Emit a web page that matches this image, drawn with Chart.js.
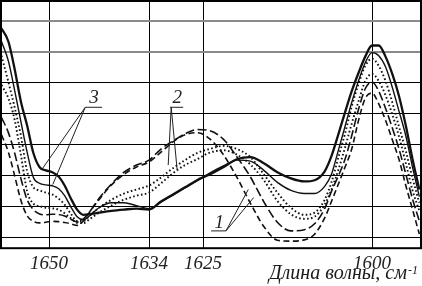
<!DOCTYPE html>
<html>
<head>
<meta charset="utf-8">
<script src="https://cdn.jsdelivr.net/npm/chart.js@4.4.1/dist/chart.umd.min.js"></script>
<style>
  html, body { margin: 0; padding: 0; background: #fff; }
  #wrap { width: 422px; height: 286px; }
</style>
</head>
<body>
<div id="wrap"><canvas id="chart"></canvas></div>
<script>
// wavenumber, cm-1 (shared by all curves)
const wavenumbers = [1657.6, 1656.5, 1655.5, 1654.5, 1653.5, 1652.5, 1651.5, 1650.5, 1649.5, 1648.5,
  1647.5, 1646.5, 1645.5, 1644.5, 1643.5, 1642, 1640, 1638, 1636, 1634,
  1632, 1630, 1628, 1626, 1624, 1622, 1620, 1618, 1616, 1614,
  1612, 1610, 1608.5, 1607, 1606, 1605, 1604, 1603, 1602, 1601,
  1600, 1599, 1598, 1597, 1596, 1595, 1594, 1593]

// group 3 (solid)
const sample3a = [0.775, 0.733, 0.644, 0.539, 0.461, 0.372, 0.326, 0.316, 0.310, 0.297,
  0.267, 0.225, 0.189, 0.172, 0.174, 0.179, 0.185, 0.189, 0.192, 0.189,
  0.215, 0.238, 0.261, 0.284, 0.303, 0.326, 0.352, 0.359, 0.339, 0.310,
  0.290, 0.280, 0.284, 0.313, 0.362, 0.431, 0.503, 0.572, 0.631, 0.684,
  0.720, 0.720, 0.684, 0.628, 0.556, 0.461, 0.352, 0.254]
const sample3b = [0.733, 0.670, 0.575, 0.474, 0.375, 0.293, 0.274, 0.269, 0.266, 0.257,
  0.234, 0.198, 0.166, 0.156, 0.169, 0.195, 0.211, 0.211, 0.202, 0.192,
  0.213, 0.236, 0.259, 0.282, 0.307, 0.330, 0.349, 0.346, 0.316, 0.277,
  0.251, 0.241, 0.241, 0.264, 0.303, 0.379, 0.457, 0.536, 0.605, 0.664,
  0.697, 0.687, 0.651, 0.585, 0.507, 0.428, 0.326, 0.231]
// group 2 (dotted)
const sample2a = [0.687, 0.602, 0.520, 0.428, 0.313, 0.261, 0.251, 0.244, 0.238, 0.225,
  0.205, 0.175, 0.152, 0.152, 0.169, 0.195, 0.221, 0.241, 0.254, 0.267,
  0.293, 0.323, 0.349, 0.372, 0.385, 0.395, 0.385, 0.359, 0.303, 0.244,
  0.195, 0.172, 0.179, 0.221, 0.277, 0.356, 0.434, 0.523, 0.595, 0.654,
  0.677, 0.654, 0.605, 0.536, 0.457, 0.379, 0.290, 0.211]
const sample2b = [0.592, 0.549, 0.480, 0.366, 0.248, 0.208, 0.200, 0.195, 0.193, 0.189,
  0.177, 0.161, 0.146, 0.145, 0.158, 0.179, 0.202, 0.221, 0.234, 0.244,
  0.274, 0.307, 0.333, 0.352, 0.373, 0.381, 0.367, 0.335, 0.284, 0.217,
  0.174, 0.159, 0.166, 0.205, 0.254, 0.316, 0.389, 0.467, 0.539, 0.605,
  0.628, 0.605, 0.559, 0.497, 0.425, 0.339, 0.251, 0.185]
// group 1 (dashed)
const sample1a = [0.487, 0.438, 0.372, 0.290, 0.221, 0.189, 0.175, 0.172, 0.174, 0.173,
  0.168, 0.158, 0.149, 0.159, 0.182, 0.225, 0.272, 0.310, 0.333, 0.349,
  0.385, 0.411, 0.434, 0.448, 0.444, 0.417, 0.360, 0.295, 0.214, 0.148,
  0.120, 0.124, 0.143, 0.192, 0.248, 0.297, 0.351, 0.428, 0.513, 0.580,
  0.602, 0.572, 0.517, 0.454, 0.385, 0.304, 0.223, 0.152]
const sample1b = [0.431, 0.375, 0.299, 0.219, 0.169, 0.151, 0.146, 0.148, 0.151, 0.150,
  0.147, 0.143, 0.138, 0.152, 0.181, 0.221, 0.269, 0.303, 0.327, 0.343,
  0.375, 0.408, 0.431, 0.438, 0.418, 0.367, 0.294, 0.210, 0.134, 0.090,
  0.087, 0.091, 0.109, 0.162, 0.215, 0.270, 0.326, 0.385, 0.477, 0.549,
  0.566, 0.531, 0.478, 0.415, 0.351, 0.267, 0.189, 0.110]

const xTicks = [1650, 1634, 1625, 1600]
const yGrid = [0.1, 0.2, 0.3, 0.4, 0.5, 0.6, 0.7, 0.8]
const xTitle = 'Длина волны, см'
const xTitleSup = '-1'

// curve group labels: text, anchor [wavenumber, value], bar ends, leader start and ends
const labelText = ['1', '2', '3']
const labelAt = [[1622.6, 0.130], [1629.3, 0.533], [1642.8, 0.533]]
const barFrom = [[1623.8, 0.120], [1630.5, 0.520], [1644.2, 0.520]]
const barTo = [[1621.6, 0.120], [1628.3, 0.520], [1641.5, 0.520]]
const leaderFrom = [[1621.6, 0.120], [1630.3, 0.520], [1644.2, 0.520]]
const leaderEnds = [
  [[1618.3, 0.254], [1617.5, 0.228]],
  [[1630.8, 0.333], [1629.3, 0.316]],
  [[1651.1, 0.320], [1649.4, 0.270]]
]

// the original axis is not evenly spaced, so map it piecewise
const KNOT_WAVE = [1657.68, 1634, 1625, 1600, 1592.75]
const KNOT_FRAC = [0, 148 / 420, 202 / 420, 371 / 420, 1]

function waveToFrac(w) {
  const n = KNOT_WAVE.length
  for (let i = 0; i < n - 1; i++) {
    if (w >= KNOT_WAVE[i + 1] || i === n - 2) {
      const t = (KNOT_WAVE[i] - w) / (KNOT_WAVE[i] - KNOT_WAVE[i + 1])
      return KNOT_FRAC[i] + t * (KNOT_FRAC[i + 1] - KNOT_FRAC[i])
    }
  }
}

function fracToWave(f) {
  const n = KNOT_FRAC.length
  for (let i = 0; i < n - 1; i++) {
    if (f <= KNOT_FRAC[i + 1] || i === n - 2) {
      const t = (f - KNOT_FRAC[i]) / (KNOT_FRAC[i + 1] - KNOT_FRAC[i])
      return KNOT_WAVE[i] + t * (KNOT_WAVE[i + 1] - KNOT_WAVE[i])
    }
  }
}

class WaveScale extends Chart.LinearScale {
  getPixelForValue(value) {
    if (value === null || isNaN(value)) return NaN
    return this.getPixelForDecimal(waveToFrac(value))
  }
  getValueForPixel(pixel) {
    return fracToWave(this.getDecimalForPixel(pixel))
  }
}
WaveScale.id = 'wave'
WaveScale.defaults = Chart.LinearScale.defaults
Chart.register(WaveScale)

const serifItalic = { family: "'Liberation Serif', 'DejaVu Serif', serif", style: 'italic', size: 19 }

function series(values, style) {
  return Object.assign({
    data: wavenumbers.map((w, i) => ({ x: w, y: values[i] })),
    borderColor: '#111',
    pointRadius: 0,
    fill: false,
    cubicInterpolationMode: 'monotone'
  }, style)
}

const paperPlugin = {
  id: 'paper',
  beforeDraw(chart) {
    const ctx = chart.ctx
    ctx.save()
    ctx.fillStyle = '#fff'
    ctx.fillRect(0, 0, chart.width, chart.height)
    ctx.restore()
  },
  afterDatasetsDraw(chart) {
    const { ctx, chartArea, scales } = chart
    const px = p => [scales.x.getPixelForValue(p[0]), scales.y.getPixelForValue(p[1])]
    ctx.save()
    // frame
    ctx.strokeStyle = '#000'
    ctx.lineWidth = 2
    ctx.strokeRect(chartArea.left, chartArea.top, chartArea.right - chartArea.left, chartArea.bottom - chartArea.top)

    // group labels with leaders
    ctx.lineWidth = 1
    ctx.strokeStyle = '#222'
    ctx.fillStyle = '#222'
    ctx.font = 'italic 19px "Liberation Serif"'
    ctx.textAlign = 'center'
    ctx.textBaseline = 'alphabetic'
    labelText.forEach((t, i) => {
      const [tx, ty] = px(labelAt[i])
      ctx.fillText(t, tx, ty)
      const a = px(barFrom[i]), b = px(barTo[i]), o = px(leaderFrom[i])
      ctx.beginPath()
      ctx.moveTo(a[0], a[1])
      ctx.lineTo(b[0], b[1])
      leaderEnds[i].forEach(e => {
        const p = px(e)
        ctx.moveTo(o[0], o[1])
        ctx.lineTo(p[0], p[1])
      })
      ctx.stroke()
    })
    ctx.restore()
  },
  afterDraw(chart) {
    const ctx = chart.ctx
    ctx.save()
    ctx.fillStyle = '#1a1a1a'
    ctx.textBaseline = 'alphabetic'
    ctx.textAlign = 'right'
    ctx.font = 'italic 12px "Liberation Serif"'
    const supW = ctx.measureText(xTitleSup).width
    const right = chart.width - 4
    ctx.fillText(xTitleSup, right, 274)
    ctx.font = 'italic 20px "Liberation Serif"'
    ctx.fillText(xTitle, right - supW - 1, 279)
    ctx.restore()
  }
}

new Chart(document.getElementById('chart'), {
  type: 'line',
  data: {
    datasets: [
      series(sample3a, { borderWidth: 2.3 }),
      series(sample3b, { borderWidth: 1.4 }),
      series(sample2a, { borderWidth: 1.9, borderDash: [1.6, 2.4] }),
      series(sample2b, { borderWidth: 1.9, borderDash: [1.6, 2.4] }),
      series(sample1a, { borderWidth: 1.6, borderDash: [9, 3.5] }),
      series(sample1b, { borderWidth: 1.6, borderDash: [6, 3.5] })
    ]
  },
  options: {
    responsive: true,
    maintainAspectRatio: false,
    animation: false,
    devicePixelRatio: 1,
    events: [],
    layout: { padding: { left: 1, right: 1, top: 1, bottom: 7 } },
    plugins: {
      legend: { display: false },
      tooltip: { enabled: false }
    },
    scales: {
      x: {
        type: 'wave',
        min: 1592.75,
        max: 1657.68,
        bounds: 'data',
        afterBuildTicks: scale => { scale.ticks = xTicks.map(v => ({ value: v })) },
        grid: { color: '#000', lineWidth: 1, drawTicks: false },
        border: { display: false },
        ticks: {
          autoSkip: false,
          maxRotation: 0,
          padding: 4,
          color: '#222',
          font: serifItalic,
          callback: v => String(v)
        }
      },
      y: {
        min: 0.064,
        max: 0.864,
        bounds: 'data',
        afterBuildTicks: scale => { scale.ticks = yGrid.map(v => ({ value: v })) },
        grid: {
          color: ctx => (ctx.tick && ctx.tick.value > 0.65 ? '#8a8a8a' : '#000'),
          lineWidth: ctx => (ctx.tick && ctx.tick.value > 0.65 ? 2 : 1),
          drawTicks: false
        },
        border: { display: false },
        ticks: { display: false }
      }
    }
  },
  plugins: [paperPlugin]
})
</script>
</body>
</html>
